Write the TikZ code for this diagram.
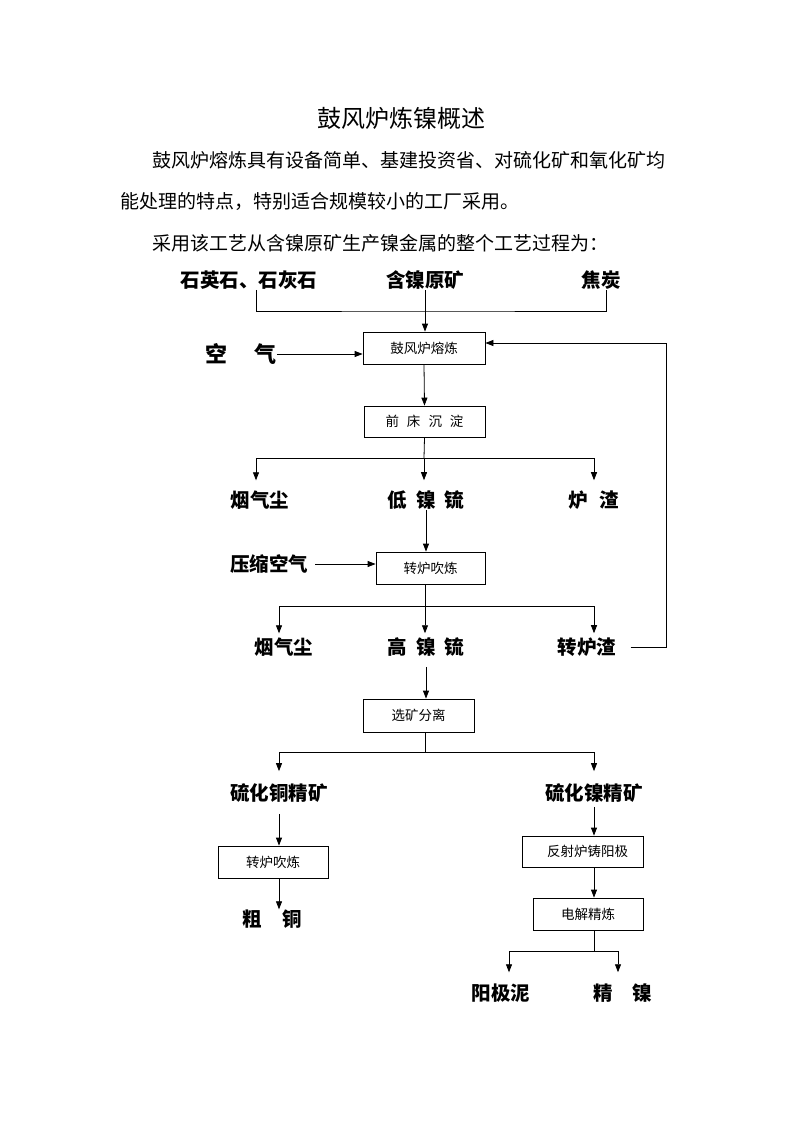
\documentclass[tikz,border=0pt]{standalone}
\usepackage{fontspec}
\setmainfont{Noto Sans CJK SC}
\usetikzlibrary{arrows.meta}

\tikzset{box/.style={draw,line width=0.8pt,minimum height=32pt,inner sep=0pt,font=\fontsize{13.5}{16}\selectfont},
  lbl/.style={inner sep=0pt,font=\fontsize{19.5}{22}\selectfont\bfseries},
  para/.style={anchor=west,inner sep=0pt,font=\fontsize{19}{24}\selectfont}}

\begin{document}
\begin{tikzpicture}[x=1pt,y=-1pt,>={Triangle[length=8pt,width=6pt]},line width=0.8pt]
    \useasboundingbox[fill=white] (0,0) rectangle (800,1132);
    %texts
    \node (T0) at (401,118) [font=\fontsize{24}{28}\selectfont]{鼓风炉炼镍概述};
    \node (T1) at (152,160) [para]{鼓风炉熔炼具有设备简单、基建投资省、对硫化矿和氧化矿均};
    \node (T2) at (120,201) [para]{能处理的特点，特别适合规模较小的工厂采用。};
    \node (T3) at (152,243) [para]{采用该工艺从含镍原矿生产镍金属的整个工艺过程为：};

    %labels
    \node (S1) at (249,280) [lbl]{石英石、石灰石};
    \node (S2) at (425,280) [lbl]{含镍原矿};
    \node (S3) at (601,280) [lbl]{焦炭};
    \node (A1) at (241,354) [lbl,font=\fontsize{22}{24}\selectfont\bfseries]{空\hspace{27pt}气};
    \node (L1) at (260,500) [lbl]{烟气尘};
    \node (L2) at (426,500) [lbl]{低\hspace{9pt}镍\hspace{9pt}锍};
    \node (L3) at (594,500) [lbl]{炉\hspace{12pt}渣};
    \node (A2) at (269,564) [lbl]{压缩空气};
    \node (L4) at (284,647) [lbl]{烟气尘};
    \node (L5) at (426,647) [lbl]{高\hspace{9pt}镍\hspace{9pt}锍};
    \node (L6) at (587,647) [lbl]{转炉渣};
    \node (L7) at (279,793) [lbl]{硫化铜精矿};
    \node (L8) at (594,793) [lbl]{硫化镍精矿};
    \node (L9) at (272,919) [lbl]{粗\hspace{21pt}铜};
    \node (L10) at (501,993) [lbl]{阳极泥};
    \node (L11) at (623,993) [lbl]{精\hspace{20pt}镍};

    %boxes
    \node (B1) at (424,348) [box,minimum width=122pt]{鼓风炉熔炼};
    \node (B2) at (424.5,421.5) [box,minimum width=121pt,minimum height=31pt]{前\hspace{8pt}床\hspace{8pt}沉\hspace{8pt}淀};
    \node (B3) at (430.5,568) [box,minimum width=109pt]{转炉吹炼};
    \node (B4) at (418.5,715.5) [box,minimum width=111pt,minimum height=33pt]{选矿分离};
    \node (B5) at (273,862) [box,minimum width=110pt]{转炉吹炼};
    \node (B6) at (582.5,851.5) [box,minimum width=121pt,minimum height=31pt]{\hspace{10pt}反射炉铸阳极};
    \node (B7) at (588,914) [box,minimum width=110pt]{电解精炼};

    %junctions
    \coordinate (J0) at (425,311);
    \coordinate (J1) at (424,458);
    \coordinate (J2) at (425,606);
    \coordinate (J3) at (425,752);
    \coordinate (J4) at (594,951);
    \coordinate (R1) at (666,647);

    %feed
    \draw ([xshift=7pt]S1.south) |- (J0) -| ([xshift=5pt]S3.south);
    \draw [->] (S2.south) to (S2.south |- B1.north);
    \draw [->] (A1.east) to (A1.east -| B1.west);
    \draw [->] (B1.south) to (B2.north);

    %first split
    \draw (B2.south) to (J1);
    \draw [->,shorten >=10pt] (J1) -| ([xshift=-4pt]L1.north);
    \draw [->,shorten >=10pt] (J1) to (J1 |- L2.north);
    \draw [->,shorten >=10pt] (J1) -| (L3.north);

    %converter
    \draw [->] (L2.south) to (L2.south |- B3.north);
    \draw [->] ([xshift=7pt]A2.east) to (A2.east -| B3.west);
    \draw (J2 |- B3.south) to (J2);
    \draw [->,shorten >=4pt] (J2) -| ([xshift=-5pt]L4.north);
    \draw [->,shorten >=4pt] (J2) to (J2 |- L5.north);
    \draw [->,shorten >=4pt] (J2) -| ([xshift=7pt]L6.north);
    \draw [->] ([xshift=14pt]L6.east) to (R1) |- ([yshift=5pt]B1.east);

    %separation
    \draw [->,shorten <=10pt] (L5.south) to (L5.south |- B4.north);
    \draw (J3 |- B4.south) to (J3);
    \draw [->,shorten >=12pt] (J3) -| (L7.north);
    \draw [->,shorten >=12pt] (J3) -| (L8.north);

    %copper
    \draw [->,shorten <=11pt] (L7.south) to (L7.south |- B5.north);
    \draw [->] (L7.south |- B5.south) to (L7.south |- L9.north);

    %nickel
    \draw [->,shorten <=4pt] (L8.south) to (L8.south |- B6.north);
    \draw [->] (L8.south |- B6.south) to (L8.south |- B7.north);
    \draw (J4 |- B7.south) to (J4);
    \draw [->,shorten >=11pt] (J4) -| ([xshift=8pt]L10.north);
    \draw [->,shorten >=11pt] (J4) -| ([xshift=-5pt]L11.north);
\end{tikzpicture}
\end{document}
